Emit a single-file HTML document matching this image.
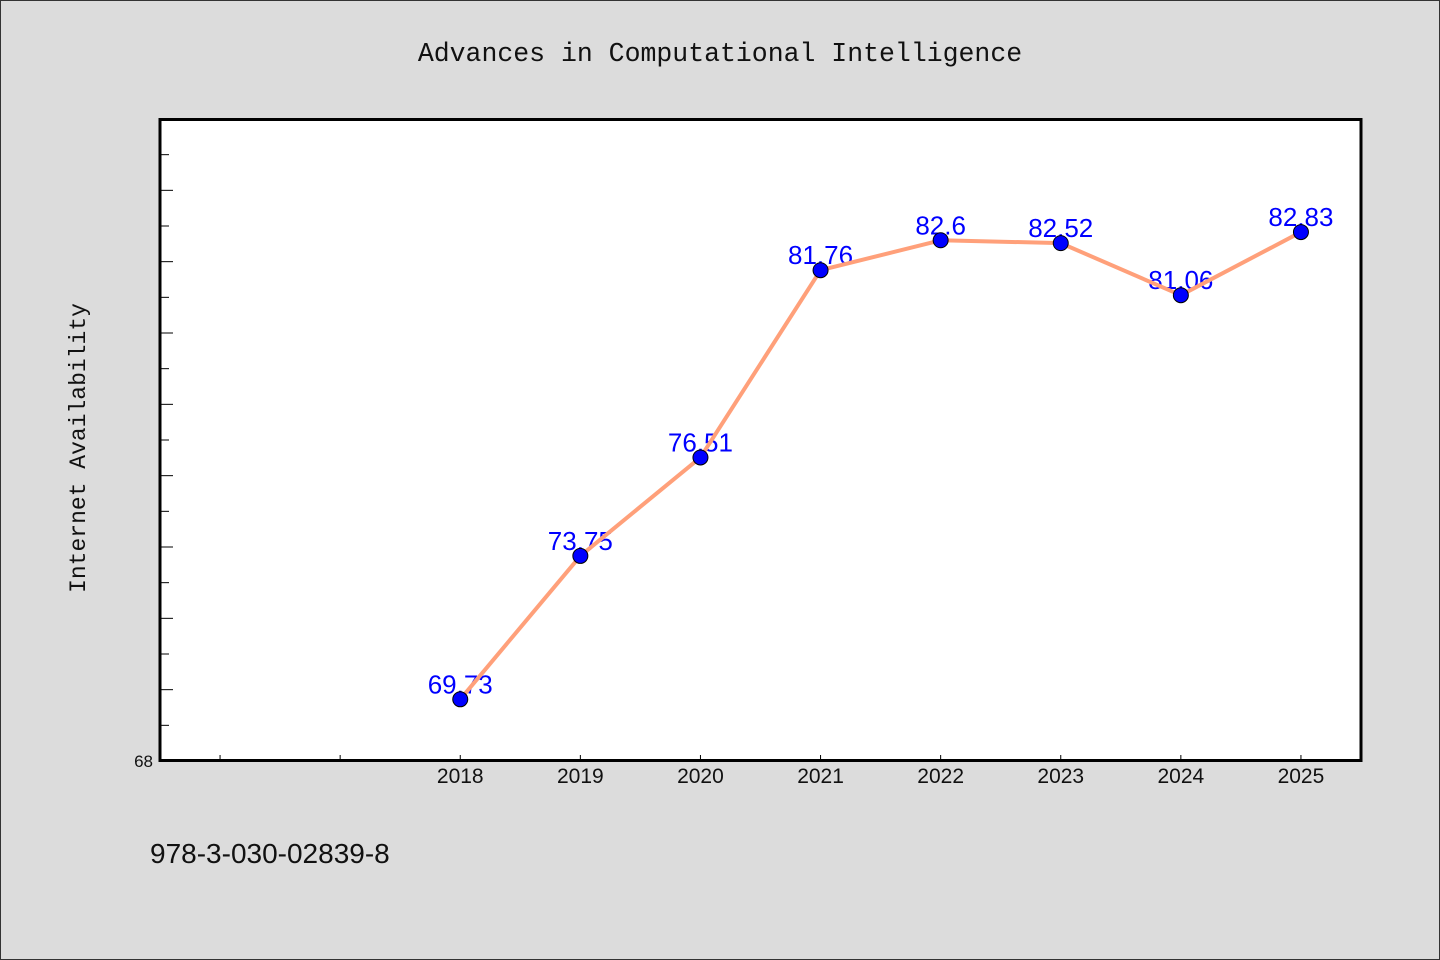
<!DOCTYPE html>
<html><head><meta charset="utf-8"><style>
html,body{margin:0;padding:0;background:#dcdcdc;}
svg{display:block;}
</style></head><body>
<svg id="chart" width="1440" height="960" xmlns="http://www.w3.org/2000/svg">
<rect x="0.5" y="0.5" width="1439" height="959" fill="#dcdcdc" stroke="#333"/>
<text x="720" y="61" text-anchor="middle" font-family="Liberation Mono, monospace" font-size="26.5" fill="#111">Advances in Computational Intelligence</text>
<rect x="160" y="119.5" width="1201" height="641" fill="#fff" stroke="#000" stroke-width="3"/>
<text transform="translate(85,448) rotate(-90)" text-anchor="middle" font-family="Liberation Mono, monospace" font-size="23" fill="#111">Internet Availability</text>
<text x="150" y="863" font-family="Liberation Sans, sans-serif" font-size="28" fill="#111">978-3-030-02839-8</text>
<g id="ticks"></g>
<g id="labels"></g>
<g id="series"></g>
</svg>
<script>
const years = [2018, 2019, 2020, 2021, 2022, 2023, 2024, 2025];
const values = [69.73, 73.75, 76.51, 81.76, 82.6, 82.52, 81.06, 82.83];
const valueLabels = ["69.73", "73.75", "76.51", "81.76", "82.6", "82.52", "81.06", "82.83"];
const xTicks = [2016, 2017, 2018, 2019, 2020, 2021, 2022, 2023, 2024, 2025];
const yMinLabel = "68";

const NS = "http://www.w3.org/2000/svg";
const X0 = 160, X1 = 1361, Y0 = 761, Y1 = 119;
const xMin = 2015.5, xMax = 2025.5, yMin = 68, yMax = 86;
const xs = v => X0 + (v - xMin) / (xMax - xMin) * (X1 - X0);
const ys = v => Y0 - (v - yMin) / (yMax - yMin) * (Y0 - Y1);
function mk(tag, attrs, parent){const e=document.createElementNS(NS,tag);for(const k in attrs)e.setAttribute(k,attrs[k]);parent.appendChild(e);return e;}

const tg = document.getElementById('ticks');
for (let v = yMin + 1; v < yMax; v++) {
  const len = (v % 2 === 0) ? 13 : 9;
  const t = mk('line', {x1: X0, x2: X0 + len, y1: ys(v), y2: ys(v), stroke: '#000', 'stroke-width': 1}, tg);
  
  
}
const yl = mk('text', {x: 153, y: Y0 + 6, 'text-anchor': 'end', 'font-family': 'Liberation Sans, sans-serif', 'font-size': 17, fill: '#111'}, tg);
yl.textContent = yMinLabel;


xTicks.forEach(v => {
  const t = mk('line', {x1: xs(v), x2: xs(v), y1: Y0, y2: Y0 - 6, stroke: '#000', 'stroke-width': 1}, tg);
  
  
});
years.forEach(v => {
  const t = mk('text', {x: xs(v), y: 783, 'text-anchor': 'middle', 'font-family': 'Liberation Sans, sans-serif', 'font-size': 21, fill: '#111'}, tg);
  t.textContent = String(v);
  
  
});

const lg = document.getElementById('labels');
years.forEach((y, i) => {
  const t = mk('text', {x: xs(y), y: ys(values[i]) - 6, 'text-anchor': 'middle', 'font-family': 'Liberation Sans, sans-serif', 'font-size': 26, fill: '#0000ff'}, lg);
  t.textContent = valueLabels[i];
  
  
});

const sg = document.getElementById('series');
const pts = years.map((y, i) => xs(y) + ',' + ys(values[i])).join(' ');
const pl = mk('polyline', {points: pts, fill: 'none', stroke: '#ffa07a', 'stroke-width': 4, 'stroke-linejoin': 'round'}, sg);


years.forEach((y, i) => {
  const c = mk('circle', {cx: xs(y), cy: ys(values[i]), r: 7.5, fill: '#0000ff', stroke: '#000', 'stroke-width': 1}, sg);
  
  
});
</script>
</body></html>
